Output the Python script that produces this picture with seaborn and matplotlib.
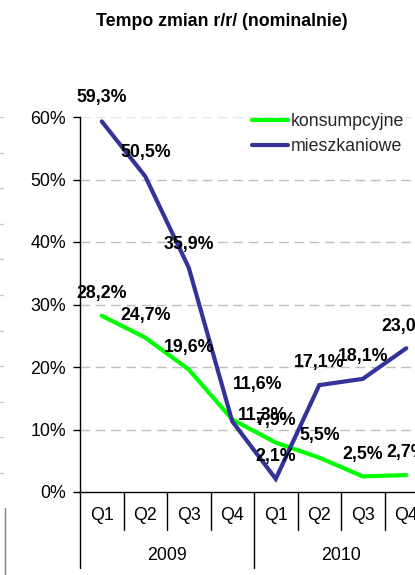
import matplotlib
matplotlib.use("Agg")
import matplotlib.pyplot as plt
import matplotlib.transforms as mtrans
from matplotlib.lines import Line2D
import seaborn as sns
import pandas as pd

# ---- data ----
quarters = ["Q1", "Q2", "Q3", "Q4", "Q1", "Q2", "Q3", "Q4"]
years = ["2009", "2010"]
konsumpcyjne = [28.2, 24.7, 19.6, 11.6, 7.9, 5.5, 2.5, 2.7]
mieszkaniowe = [59.3, 50.5, 35.9, 11.3, 2.1, 17.1, 18.1, 23.0]
series_names = ["konsumpcyjne", "mieszkaniowe"]
title = "Tempo zmian r/r/ (nominalnie)"

# label offsets in points (dx, dy) relative to each point
off_k = [(0, 16)] * 3 + [(18, 25)] + [(0, 16)] * 4
off_m = [(0, 17)] * 3 + [(22, 4)] + [(0, 16)] * 4

sns.set_theme(style="white")
plt.rcParams["font.family"] = ["Liberation Sans", "DejaVu Sans"]

FS = 12.8
GREEN = "#00FF00"
BLUE = "#333399"

df = pd.DataFrame({
    "idx": list(range(len(quarters))) * 2,
    "val": konsumpcyjne + mieszkaniowe,
    "series": [series_names[0]] * len(quarters) + [series_names[1]] * len(quarters),
})

fig = plt.figure(figsize=(4.15, 5.75), dpi=100)
W, H = 415, 575
ax = fig.add_axes([80 / W, (H - 492) / H, 348 / W, 375 / H])

sns.lineplot(data=df, x="idx", y="val", hue="series", palette=[GREEN, BLUE],
             linewidth=3.0, ax=ax, legend=False, sort=False)
for ln in ax.lines:
    ln.set_solid_joinstyle("miter")
    ln.set_clip_on(False)

ax.set_xlim(-0.5, len(quarters) - 0.5)
ax.set_ylim(0, 60)
ax.set_yticks(range(0, 61, 10))
ax.set_yticklabels([f"{v}%" for v in range(0, 61, 10)], fontsize=FS, color="black")
ax.set_xlabel("")
ax.set_ylabel("")

# grid
for v in range(10, 61, 10):
    ax.axhline(v, color="#C0C0C0" if v < 60 else "#E6E6E6", linewidth=1.0,
               linestyle=(0, (7, 4)), zorder=0)

for s in ["top", "right"]:
    ax.spines[s].set_visible(False)
for s in ["left", "bottom"]:
    ax.spines[s].set_color("black")
    ax.spines[s].set_linewidth(1.0)

ax.tick_params(axis="y", which="major", left=True, length=5, width=1.0, pad=5,
               color="black", direction="out")
ax.set_xticks(range(len(quarters)))
ax.set_xticklabels(quarters, fontsize=FS, color="black")
ax.tick_params(axis="x", length=0, pad=11)

# category separators
trans = mtrans.blended_transform_factory(ax.transData, ax.transAxes)
lvl1 = -38 / 375
lvl2 = -76 / 375
for i in range(len(quarters) + 1):
    b = i - 0.5
    bottom = lvl2 if i % 4 == 0 else lvl1
    ax.plot([b, b], [0, bottom], color="black", linewidth=1.0,
            transform=trans, clip_on=False)
for j, yr in enumerate(years):
    ax.text(j * 4 + 1.5, -63 / 375, yr, transform=trans, ha="center",
            va="center", fontsize=FS, color="black")

# data labels
for vals, offs in [(konsumpcyjne, off_k), (mieszkaniowe, off_m)]:
    for i, v in enumerate(vals):
        lab = f"{v:.1f}%".replace(".", ",")
        ax.annotate(lab, (i, v), xytext=offs[i], textcoords="offset points",
                    ha="center", va="center", fontsize=FS, fontweight="bold",
                    color="black", annotation_clip=False)

# legend
handles = [Line2D([0], [0], color=GREEN, linewidth=3.0),
           Line2D([0], [0], color=BLUE, linewidth=3.0)]
fig.legend(handles, series_names, loc="upper left",
           bbox_to_anchor=(252 / W, 1 - 113 / H), frameon=False,
           fontsize=FS, handlelength=2.0, handletextpad=0.2,
           labelspacing=0.45, borderpad=0, borderaxespad=0)

fig.text(222 / W, 1 - 22 / H, title, ha="center", va="center",
         fontsize=FS, fontweight="bold", color="black")

# fragments of the neighbouring chart at the left edge
for k in range(11):
    y = 1 - (117 + k * 35.6) / H
    fig.add_artist(Line2D([0, 3 / W], [y, y], color="#C8C8C8", linewidth=1.0))
fig.add_artist(Line2D([5 / W, 5 / W], [1 - 508 / H, 0], color="#808080",
                      linewidth=1.0))

fig.savefig("out.png", dpi=100)
